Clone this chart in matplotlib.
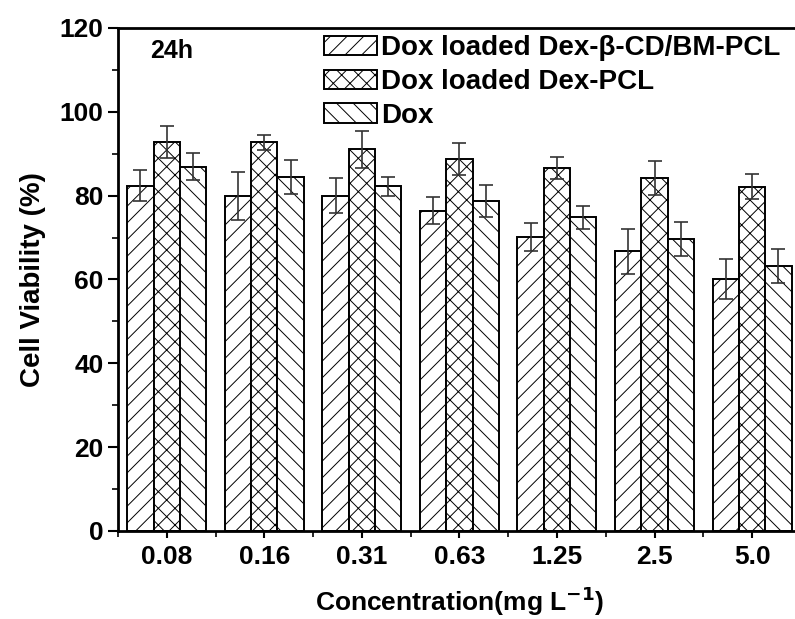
import numpy as np
import matplotlib
matplotlib.use("Agg")
import matplotlib.pyplot as plt
from matplotlib.ticker import MultipleLocator, FixedLocator

# ----- data -----
concentrations = ["0.08", "0.16", "0.31", "0.63", "1.25", "2.5", "5.0"]
series_names = ["Dox loaded Dex-\u03b2-CD/BM-PCL", "Dox loaded Dex-PCL", "Dox"]
cd_pcl = [82.4, 80.0, 80.0, 76.4, 70.1, 66.7, 60.2]
cd_pcl_err = [3.6, 5.7, 4.2, 3.2, 3.3, 5.4, 4.8]
dex_pcl = [92.9, 92.7, 91.1, 88.8, 86.6, 84.2, 82.1]
dex_pcl_err = [3.8, 1.7, 4.4, 3.8, 2.6, 4.0, 3.0]
dox = [86.9, 84.5, 82.2, 78.8, 74.8, 69.7, 63.2]
dox_err = [3.2, 4.0, 2.3, 3.8, 2.8, 4.0, 4.1]

plt.rcParams['font.family'] = ['Liberation Sans', 'DejaVu Sans']
plt.rcParams['font.weight'] = 'bold'
plt.rcParams['hatch.linewidth'] = 0.7
plt.rcParams['hatch.color'] = '#555555'

fig = plt.figure(figsize=(7.95, 6.19), dpi=100)
ax = fig.add_axes([0.1484, 0.1422, 0.859, 0.8126])

x = np.arange(1, len(concentrations) + 1)
w = 0.27
hatches = ['//', 'xx', '\\\\']
values = [cd_pcl, dex_pcl, dox]
errors = [cd_pcl_err, dex_pcl_err, dox_err]

for i, (vals, errs, h, name) in enumerate(zip(values, errors, hatches, series_names)):
    ax.bar(x + (i - 1) * w, vals, width=w, facecolor='white', edgecolor='black',
           linewidth=1.4, hatch=h, label=name, zorder=2)
    ax.errorbar(x + (i - 1) * w, vals, yerr=errs, fmt='none', ecolor='#333333',
                elinewidth=1.2, capsize=5, capthick=1.2, zorder=3)

ax.set_xlim(0.5, 7.5)
ax.set_ylim(0, 120)
ax.set_xticks(x)
ax.set_xticklabels(concentrations)
ax.xaxis.set_minor_locator(FixedLocator(np.arange(0.5, 7.6, 1.0)))
ax.yaxis.set_major_locator(MultipleLocator(20))
ax.yaxis.set_minor_locator(MultipleLocator(10))

ax.tick_params(axis='both', which='major', direction='out', length=7, width=1.5,
               labelsize=19)
ax.tick_params(axis='both', which='minor', direction='out', length=4, width=1.2)
ax.tick_params(axis='x', which='major', length=5, pad=5)
for sp in ['left', 'bottom', 'top']:
    ax.spines[sp].set_linewidth(2)
ax.spines['right'].set_visible(False)

ax.set_xlabel("Concentration(mg L$^{\\mathbf{-1}}$)", fontsize=19, fontweight='bold',
              labelpad=11)
ax.set_ylabel("Cell Viability (%)", fontsize=20, fontweight='bold', labelpad=10)

ax.text(0.047, 0.955, "24h", transform=ax.transAxes, fontsize=18,
        fontweight='bold', va='center', ha='left')

leg = ax.legend(loc='upper left', bbox_to_anchor=(0.273, 1.024), frameon=False,
                fontsize=20, handlelength=1.9, handleheight=0.7,
                labelspacing=0.28, handletextpad=0.15, borderpad=0.2)
for t in leg.get_texts():
    t.set_fontweight('bold')

fig.savefig("out.png", dpi=100)
